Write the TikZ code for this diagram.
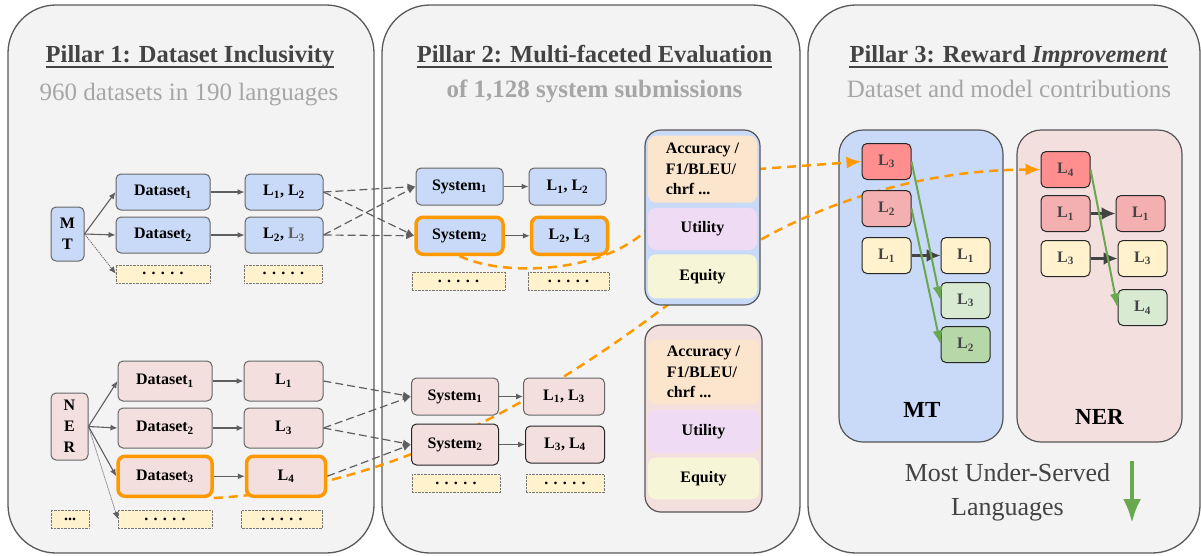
\documentclass[tikz,border=0pt]{standalone}
\usepackage{fontspec}
\setmainfont{Liberation Serif}
\usetikzlibrary{positioning,arrows.meta}

\definecolor{pillarbg}{HTML}{F3F3F3}
\definecolor{pillarline}{HTML}{595959}
\definecolor{textdark}{HTML}{434343}
\definecolor{subgray}{HTML}{A6A6A6}
\definecolor{boxline}{HTML}{666666}
\definecolor{evalline}{HTML}{555555}
\definecolor{mtblue}{HTML}{C9DAF8}
\definecolor{nerpink}{HTML}{F4DFDF}
\definecolor{dotyellow}{HTML}{FFF2CC}
\definecolor{dotline}{HTML}{777777}
\definecolor{hlorange}{HTML}{FF9900}
\definecolor{arrowgray}{HTML}{5F5F5F}
\definecolor{arrowgreen}{HTML}{6AA84F}
\definecolor{accpeach}{HTML}{FCE5CD}
\definecolor{utilpurple}{HTML}{EFDBF4}
\definecolor{equityyellow}{HTML}{F6F5D8}
\definecolor{langred}{HTML}{FF8F8F}
\definecolor{langpink}{HTML}{F4B0B0}
\definecolor{langyellow}{HTML}{FFF2CC}
\definecolor{langgreen}{HTML}{D9EAD3}
\definecolor{langgreendk}{HTML}{B6D7A8}

\newcommand{\fivedots}{.\,\,.\,\,.\,\,.\,\,.}
\newcommand{\Lsub}[1]{L\textsubscript{#1}}

\pgfdeclarelayer{back}
\pgfdeclarelayer{mid}
\pgfsetlayers{back,mid,main}

\tikzset{
  pillar/.style={draw=pillarline, fill=pillarbg, line width=1.3pt, rounded corners=48pt},
  title/.style={inner sep=0pt, anchor=base, text=textdark, font=\fontsize{24.5}{28}\selectfont\bfseries},
  subtitle/.style={inner sep=0pt, anchor=base, text=subgray, font=\fontsize{25}{28}\selectfont},
  uline/.style={draw=textdark, line width=2.5pt},
  box/.style={draw=boxline, line width=1pt, rounded corners=5pt, inner sep=0pt, align=center, font=\fontsize{16}{21}\selectfont\bfseries},
  mtbox/.style={box, fill=mtblue},
  nerbox/.style={box, fill=nerpink},
  dsbox/.style={minimum width=94pt, minimum height=36pt},
  lbox/.style={minimum width=78pt, minimum height=36pt},
  sysbox/.style={minimum width=87pt, minimum height=37pt},
  dotbox/.style={draw=dotline, densely dotted, fill=dotyellow, inner sep=0pt, minimum height=18pt, font=\fontsize{16}{16}\selectfont\bfseries},
  hl/.style={draw=hlorange, line width=3.5pt, rounded corners=7pt},
  darkline/.style={draw=black!85},
  evalbox/.style={draw=evalline, line width=1.2pt, rounded corners=16pt},
  metric/.style={rounded corners=8pt, inner sep=0pt, minimum width=109pt, align=left, font=\fontsize{16}{20.5}\selectfont\bfseries},
  taskbox/.style={draw=evalline, line width=1.2pt, rounded corners=24pt},
  tasklabel/.style={anchor=base, inner sep=0pt, font=\fontsize{23}{26}\selectfont\bfseries},
  lsq/.style={draw=black!85, line width=1pt, rounded corners=5pt, inner sep=0pt, minimum width=49pt, minimum height=36pt, text=textdark, font=\fontsize{16}{19}\selectfont\bfseries},
  solidarrow/.style={draw=arrowgray, line width=1.1pt, -{Latex[length=7pt,width=6pt]}},
  dotarrow/.style={solidarrow, densely dotted, line width=0.8pt},
  dasharrow/.style={draw=arrowgray, line width=1.2pt, dash pattern=on 8pt off 4pt, -{Latex[length=8pt,width=7pt]}},
  orangedash/.style={draw=hlorange, line width=2.5pt, dash pattern=on 9pt off 6pt},
  orangetip/.style={-{Latex[length=15pt,width=12pt]}},
  fatarrow/.style={draw=textdark, line width=2.5pt, -{Latex[length=14pt,width=13pt]}},
  greenarrow/.style={draw=arrowgreen, line width=2pt, -{Latex[length=14pt,width=10pt]}},
  bigarrow/.style={draw=arrowgreen, line width=4pt, -{Latex[length=24pt,width=18pt]}}
}

\begin{document}
\begin{tikzpicture}[x=1pt, y=-1pt]
\useasboundingbox (0,0) rectangle (1201,555);

% pillars and task panels
\begin{pgfonlayer}{back}
\node[pillar, minimum width=366pt, minimum height=548pt] (pil1) at (191,279) {};
\node[pillar, minimum width=418pt, minimum height=548pt] (pil2) at (591,279) {};
\node[pillar, minimum width=392pt, minimum height=548pt] (pil3) at (1004,279) {};
\node[taskbox, fill=mtblue, minimum width=164pt, minimum height=312pt] (mtpanel) at (921,286) {};
\node[taskbox, fill=nerpink, minimum width=165pt, minimum height=312pt] (nerpanel) at (1099.5,286) {};
\end{pgfonlayer}

% titles
\node[title] (t1) at (190,62) {Pillar 1: Dataset Inclusivity};
\node[title] (t2) at (594.5,62) {Pillar 2: Multi-faceted Evaluation};
\node[title] (t3) at (1008.5,62) {Pillar 3: Reward \textit{Improvement}};
\foreach \t in {t1,t2,t3}
  \draw[uline] ([yshift=-5pt]\t.base west) -- ([yshift=-5pt]\t.base east);
\node[subtitle] (s1) at (189,100) {960 datasets in 190 languages};
\node[subtitle, font=\fontsize{25}{28}\selectfont\bfseries] (s2) at (594.5,97) {of 1,128 system submissions};
\node[subtitle] (s3) at (1009,97) {Dataset and model contributions};

% pillar 1: MT
\node[mtbox, minimum width=33pt, minimum height=54pt] (mt) at (67.5,234) {M\\T};
\node[mtbox, dsbox] (mtds1) at (163,192) {Dataset\textsubscript{1}};
\node[mtbox, dsbox, below=6pt of mtds1] (mtds2) {Dataset\textsubscript{2}};
\node[dotbox, minimum width=94pt, below=11pt of mtds2] (mtdd1) {\fivedots};
\node[mtbox, lbox, right=34pt of mtds1] (mtl1) {\Lsub{1}, \Lsub{2}};
\node[mtbox, lbox, right=34pt of mtds2] (mtl2) {\Lsub{2}, \textcolor{textdark!85}{\Lsub{3}}};
\node[dotbox, minimum width=78pt, right=34pt of mtdd1] (mtdd2) {\fivedots};

% pillar 1: NER
\node[nerbox, minimum width=37pt, minimum height=67pt] (ner) at (69.5,426.5) {N\\E\\R};
\node[nerbox, dsbox, minimum height=40pt] (nerds1) at (165,381) {Dataset\textsubscript{1}};
\node[nerbox, dsbox, minimum height=40pt, below=6pt of nerds1] (nerds2) {Dataset\textsubscript{2}};
\node[nerbox, dsbox, minimum height=40pt, hl, below=6pt of nerds2] (nerds3) {Dataset\textsubscript{3}};
\node[nerbox, lbox, minimum width=79pt, minimum height=40pt, right=31pt of nerds1] (nerl1) {\Lsub{1}};
\node[nerbox, lbox, minimum width=79pt, minimum height=40pt, right=31pt of nerds2] (nerl3) {\Lsub{3}};
\node[nerbox, lbox, minimum width=79pt, minimum height=40pt, hl, right=31pt of nerds3] (nerl4) {\Lsub{4}};
\node[dotbox, minimum width=38pt] (nerdd0) at (70,519) {...};
\node[dotbox, minimum width=94pt] (nerdd1) at (165,519) {\fivedots};
\node[dotbox, minimum width=81pt] (nerdd2) at (282,519) {\fivedots};

% pillar 2: MT
\node[mtbox, sysbox] (sysa1) at (459.5,186.5) {System\textsubscript{1}};
\node[mtbox, sysbox, minimum width=77pt, right=25pt of sysa1] (sysa1l) {\Lsub{1}, \Lsub{2}};
\node[mtbox, sysbox, hl, below=10pt of sysa1] (sysa2) {System\textsubscript{2}};
\node[mtbox, sysbox, minimum width=76pt, hl, right=25pt of sysa2] (sysa2l) {\Lsub{2}, \Lsub{3}};
\node[dotbox, minimum width=93pt] (sysadd1) at (458.5,281) {\fivedots};
\node[dotbox, minimum width=81pt] (sysadd2) at (568.5,281) {\fivedots};

\node[evalbox, fill=mtblue, minimum width=115pt, minimum height=175pt] (evmt) at (702.5,217.5) {};
\node[metric, fill=accpeach, minimum height=67pt, below=6pt of evmt.north] (evmtacc) {Accuracy /\\F1/BLEU/\\chrf ...};
\node[metric, fill=utilpurple, minimum height=42pt, below=5pt of evmtacc] (evmtutil) {Utility};
\node[metric, fill=equityyellow, minimum height=44pt, below=4pt of evmtutil] (evmteq) {Equity};

% pillar 2: NER
\node[nerbox, sysbox] (sysb1) at (455,396.5) {System\textsubscript{1}};
\node[nerbox, sysbox, minimum width=81pt, right=24pt of sysb1] (sysb1l) {\Lsub{1}, \Lsub{3}};
\node[nerbox, sysbox, minimum height=41pt, darkline, below=8pt of sysb1] (sysb2) {System\textsubscript{2}};
\node[nerbox, sysbox, minimum width=79pt, darkline, right=26pt of sysb2] (sysb2l) {\Lsub{3}, \Lsub{4}};
\node[dotbox, minimum width=88pt] (sysbdd1) at (456,483.5) {\fivedots};
\node[dotbox, minimum width=78pt] (sysbdd2) at (565,483.5) {\fivedots};

\node[evalbox, fill=nerpink, minimum width=117pt, minimum height=187pt] (evner) at (703.5,418.5) {};
\node[metric, fill=accpeach, minimum width=111pt, minimum height=65pt, below=15pt of evner.north] (evneracc) {Accuracy /\\F1/BLEU/\\chrf ...};
\node[metric, fill=utilpurple, minimum width=111pt, minimum height=43pt, below=5pt of evneracc] (evnerutil) {Utility};
\node[metric, fill=equityyellow, minimum width=111pt, minimum height=42pt, below=4pt of evnerutil] (evnereq) {Equity};

% pillar 3: MT
\node[lsq, fill=langred] (m3) at (886.5,161.5) {\Lsub{3}};
\node[lsq, fill=langpink, below=10pt of m3] (m2) {\Lsub{2}};
\node[lsq, fill=langyellow, below=10pt of m2] (m1) {\Lsub{1}};
\node[lsq, fill=langyellow, right=29pt of m1] (m1r) {\Lsub{1}};
\node[lsq, fill=langgreen, below=8pt of m1r] (m3r) {\Lsub{3}};
\node[lsq, fill=langgreendk, below=7pt of m3r] (m2r) {\Lsub{2}};
\node[tasklabel] (mtlabel) at (922,417) {MT};

% pillar 3: NER
\node[lsq, fill=langred] (n4) at (1065.5,169.5) {\Lsub{4}};
\node[lsq, fill=langpink, below=7pt of n4] (n1) {\Lsub{1}};
\node[lsq, fill=langyellow, below=8pt of n1] (n3) {\Lsub{3}};
\node[lsq, fill=langpink, right=25pt of n1] (n1r) {\Lsub{1}};
\node[lsq, fill=langyellow, right=27pt of n3] (n3r) {\Lsub{3}};
\node[lsq, fill=langgreen, below=12pt of n3r] (n4r) {\Lsub{4}};
\node[tasklabel] (nerlabel) at (1099.5,424) {NER};

\node[align=center, text=textdark, font=\fontsize{26}{34}\selectfont] (served) at (1007.5,492) {Most Under-Served\\Languages};
\coordinate (servedtop) at (1132,461);
\coordinate (servedbot) at (1132,523);
\draw[bigarrow] (servedtop) -- (servedbot);

% pillar 1 arrows
\draw[solidarrow] (mt.east) -- (mtds1.west);
\draw[solidarrow] (mt.east) -- (mtds2.west);
\draw[dotarrow] (mt.east) -- (mtdd1.west);
\draw[solidarrow] (mtds1) -- (mtl1);
\draw[solidarrow] (mtds2) -- (mtl2);
\draw[solidarrow] (ner.east) -- (nerds1.west);
\draw[solidarrow] (ner.east) -- (nerds2.west);
\draw[solidarrow] (ner.east) -- (nerds3.west);
\draw[dotarrow] (ner.east) -- (nerdd1.west);
\draw[solidarrow] (nerds1) -- (nerl1);
\draw[solidarrow] (nerds2) -- (nerl3);
\draw[solidarrow] (nerds3) -- (nerl4);

% datasets to systems
\draw[dasharrow] (mtl1.east) -- (sysa1.west);
\draw[dasharrow] (mtl1.east) -- (sysa2.west);
\draw[dasharrow] (mtl2.east) -- (sysa1.west);
\draw[dasharrow] (mtl2.east) -- (sysa2.west);
\draw[dasharrow] (nerl1.east) -- (sysb1.west);
\draw[dasharrow] (nerl3.east) -- (sysb1.west);
\draw[dasharrow] (nerl3.east) -- (sysb2.west);
\draw[dasharrow] (nerl4.east) -- (sysb2.west);

% pillar 2 arrows
\draw[solidarrow] (sysa1) -- (sysa1l);
\draw[solidarrow] (sysa2) -- (sysa2l);
\draw[solidarrow] (sysb1) -- (sysb1l);
\draw[solidarrow] (sysb2) -- (sysb2l);

% highlighted paths
\begin{pgfonlayer}{mid}
\draw[orangedash] (sysa2.south) .. controls (500,276) and (600,275) .. (evmtutil.west);
\draw[orangedash, orangetip] (evmtacc.east) -- (m3.west);
\draw[orangedash, orangetip] (nerds3.south east) .. controls (400,488) and (560,390) .. (700,280)
  .. controls (780,217) and (900,170) .. (n4.west);
\end{pgfonlayer}

% pillar 3 arrows
\draw[fatarrow] (m1) -- (m1r);
\draw[fatarrow] (n1) -- (n1r);
\draw[fatarrow] (n3) -- (n3r);
\draw[greenarrow] (m3.east) -- (m3r.west);
\draw[greenarrow] (m2.east) -- (m2r.west);
\draw[greenarrow] (n4.east) -- (n4r.west);
\end{tikzpicture}
\end{document}
